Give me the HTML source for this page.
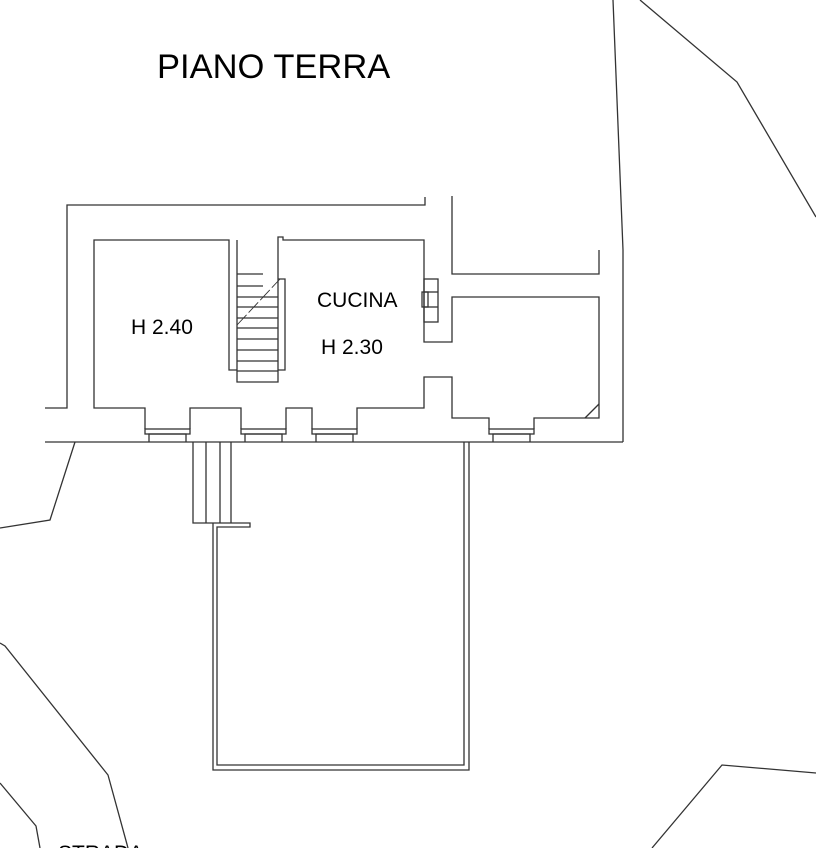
<!DOCTYPE html>
<html><head><style>
html,body{margin:0;padding:0;background:#fff;}
svg{display:block;}
text{font-family:"Liberation Sans",Arial,sans-serif;fill:#000;}
</style></head><body>
<svg width="816" height="848" viewBox="0 0 816 848" xmlns="http://www.w3.org/2000/svg">
<g fill="none" stroke="#333" stroke-width="1.3">
<polyline points="613,0 623,250 623,442"/>
<polyline points="640,0 737,82 816,217"/>
<polyline points="75,442 50,520 0,528"/>
<polyline points="0,643 5,646 108,775 128,848"/>
<polyline points="0,783 36,826 40,848"/>
<polyline points="652,848 722,765 816,773"/>
<polyline points="45,408 67,408 67,205 425,205 425,197"/>
<line x1="45" y1="442" x2="623" y2="442"/>
<polyline points="237,370 229,370 229,240 94,240 94,408 145,408 145,429"/>
<polyline points="190,429 190,408 241,408 241,429"/>
<polyline points="286,429 286,408 312,408 312,429"/>
<polyline points="357,429 357,408 424,408 424,377 452,377 452,418 489,418 489,429"/>
<polyline points="534,429 534,418 599,418 599,297 452,297 452,342 424,342 424,240 283,240 283,237 278,237 278,382 237,382 237,240"/>
<polyline points="452,196 452,274 599,274 599,250"/>
<rect x="145" y="429" width="45" height="5"/>
<polyline points="149,442 149,434 186,434 186,442"/>
<rect x="241" y="429" width="45" height="5"/>
<polyline points="245,442 245,434 282,434 282,442"/>
<rect x="312" y="429" width="45" height="5"/>
<polyline points="316,442 316,434 353,434 353,442"/>
<rect x="489" y="429" width="45" height="5"/>
<polyline points="493,442 493,434 530,434 530,442"/>
<line x1="237" y1="274" x2="263" y2="274"/>
<line x1="237" y1="286" x2="263" y2="286"/>
<line x1="237" y1="297" x2="278" y2="297"/>
<line x1="237" y1="307" x2="278" y2="307"/>
<line x1="237" y1="318" x2="278" y2="318"/>
<line x1="237" y1="328" x2="278" y2="328"/>
<line x1="237" y1="339" x2="278" y2="339"/>
<line x1="237" y1="350" x2="278" y2="350"/>
<line x1="237" y1="361" x2="278" y2="361"/>
<line x1="237" y1="371" x2="278" y2="371"/>
<polyline points="278,279 285,279 285,370 278,370"/>
<line x1="237" y1="325" x2="280" y2="279" stroke-width="0.9" stroke-dasharray="14,3"/>
<rect x="424" y="279" width="14" height="43"/>
<line x1="424" y1="292" x2="438" y2="292"/>
<line x1="424" y1="307" x2="438" y2="307"/>
<rect x="422" y="292" width="6" height="15"/>
<line x1="585" y1="418" x2="599" y2="404"/>
<polyline points="193,442 193,523 250,523 250,527 217,527 217,765 464,765 464,442"/>
<line x1="206" y1="442" x2="206" y2="523"/>
<line x1="220" y1="442" x2="220" y2="523"/>
<line x1="231" y1="442" x2="231" y2="523"/>
<polyline points="213,523 213,770 469,770 469,442"/>
</g>
<text x="157" y="78" font-size="34.5">PIANO TERRA</text>
<text x="131" y="334" font-size="21">H 2.40</text>
<text x="317" y="307" font-size="21">CUCINA</text>
<text x="321" y="354" font-size="21">H 2.30</text>
<text x="58" y="860" font-size="21">STRADA</text>
</svg>
</body></html>
